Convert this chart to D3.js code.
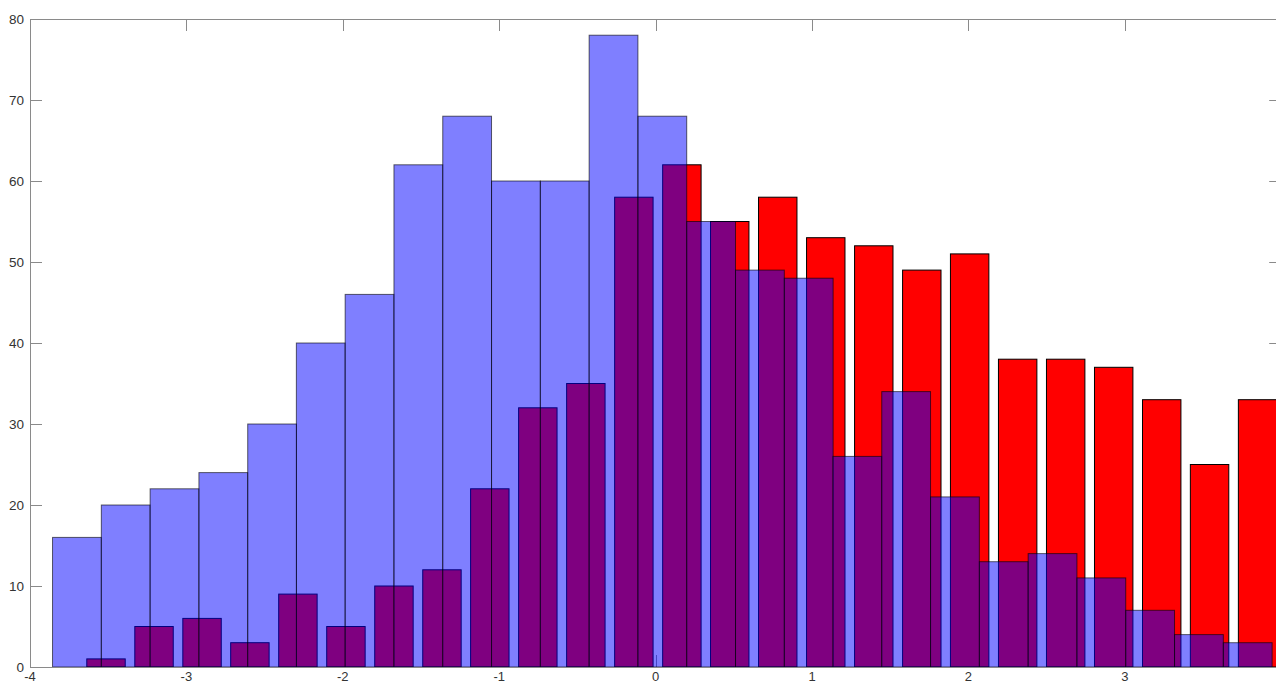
<!DOCTYPE html>
<html>
<head>
<meta charset="utf-8">
<script src="https://cdn.jsdelivr.net/npm/d3@7"></script>
<style>
  html, body { margin: 0; padding: 0; background: #fff; overflow: hidden; }
  svg { display: block; }
</style>
</head>
<body>
<svg id="chart" width="1276" height="684"></svg>
<script>
// Histogram A (semi-transparent blue): bin centres and counts
const binCentersA = [-3.700, -3.388, -3.076, -2.764, -2.452, -2.141, -1.829, -1.517, -1.205, -0.893,
                     -0.581, -0.269, 0.043, 0.355, 0.667, 0.979, 1.290, 1.602, 1.914, 2.226,
                     2.538, 2.850, 3.162, 3.474, 3.786];
const countsA = [16, 20, 22, 24, 30, 40, 46, 62, 68, 60, 60, 78, 68, 55, 49, 48, 26, 34, 21, 13, 14, 11, 7, 4, 3];
const binWidthA = 0.3119;

// Histogram B (opaque red): bar centres and counts
const binCentersB = [-3.514, -3.207, -2.900, -2.594, -2.287, -1.980, -1.673, -1.366, -1.060, -0.753,
                     -0.446, -0.139, 0.168, 0.474, 0.781, 1.088, 1.395, 1.702, 2.008, 2.315,
                     2.622, 2.929, 3.236, 3.542, 3.849];
const countsB = [1, 5, 6, 3, 9, 5, 10, 12, 22, 32, 35, 58, 62, 55, 58, 53, 52, 49, 51, 38, 38, 37, 33, 25, 33];
const barWidthB = 0.2457;

const xTicks = [-4, -3, -2, -1, 0, 1, 2, 3, 4];
const xTickLabels = ["-4", "-3", "-2", "-1", "0", "1", "2", "3"];
const yTicks = [0, 10, 20, 30, 40, 50, 60, 70, 80];

(function draw() {
  const svg = d3.select("#chart");
  const plotLeft = 30, plotTop = 19, plotBottom = 667;
  const x = d3.scaleLinear().domain([-4, 4]).range([plotLeft, plotLeft + 8 * 156.4]);
  const y = d3.scaleLinear().domain([0, 80]).range([plotBottom, plotTop]);
  const plotRight = x.range()[1];
  const tickLen = 12;
  const axisColor = "#8a8a8a";
  const labelColor = "#333";

  // Inward ticks (drawn beneath the bars)
  const ticks = svg.append("g").attr("stroke", axisColor).attr("stroke-width", 1);
  xTicks.forEach(t => {
    const px = Math.round(x(t)) + 0.5;
    ticks.append("line").attr("x1", px).attr("x2", px).attr("y1", plotBottom).attr("y2", plotBottom - tickLen);
    ticks.append("line").attr("x1", px).attr("x2", px).attr("y1", plotTop).attr("y2", plotTop + tickLen);
  });
  yTicks.forEach(t => {
    const py = Math.round(y(t)) + 0.5;
    ticks.append("line").attr("x1", plotLeft).attr("x2", plotLeft + tickLen).attr("y1", py).attr("y2", py);
    ticks.append("line").attr("x1", plotRight).attr("x2", plotRight - tickLen).attr("y1", py).attr("y2", py);
  });

  // Red bars
  svg.append("g").selectAll("rect")
    .data(binCentersB.map((c, i) => ({ c, v: countsB[i] })))
    .join("rect")
    .attr("x", d => x(d.c - barWidthB / 2))
    .attr("width", d => x(d.c + barWidthB / 2) - x(d.c - barWidthB / 2))
    .attr("y", d => y(d.v))
    .attr("height", d => y(0) - y(d.v))
    .attr("fill", "#ff0000")
    .attr("stroke", "#000")
    .attr("stroke-width", 1);

  // Blue bars, half transparent, on top
  svg.append("g").selectAll("rect")
    .data(binCentersA.map((c, i) => ({ c, v: countsA[i] })))
    .join("rect")
    .attr("x", d => x(d.c - binWidthA / 2))
    .attr("width", d => x(d.c + binWidthA / 2) - x(d.c - binWidthA / 2))
    .attr("y", d => y(d.v))
    .attr("height", d => y(0) - y(d.v))
    .attr("fill", "#0000ff")
    .attr("fill-opacity", 0.5)
    .attr("stroke", "#000")
    .attr("stroke-opacity", 0.6)
    .attr("stroke-width", 1);

  // Axes box
  const box = svg.append("g").attr("stroke", axisColor).attr("stroke-width", 1).attr("fill", "none");
  box.append("line").attr("x1", plotLeft).attr("x2", plotRight).attr("y1", plotBottom + 0.5).attr("y2", plotBottom + 0.5);
  box.append("line").attr("x1", plotLeft).attr("x2", plotRight).attr("y1", plotTop + 0.5).attr("y2", plotTop + 0.5);
  box.append("line").attr("x1", plotLeft + 0.5).attr("x2", plotLeft + 0.5).attr("y1", plotTop).attr("y2", plotBottom);
  box.append("line").attr("x1", plotRight).attr("x2", plotRight).attr("y1", plotTop).attr("y2", plotBottom);

  // Tick labels
  const font = "'Liberation Sans', Arial, Helvetica, sans-serif";
  svg.append("g").selectAll("text")
    .data(yTicks)
    .join("text")
    .attr("x", plotLeft - 6)
    .attr("y", d => y(d))
    .attr("dy", "0.35em")
    .attr("text-anchor", "end")
    .attr("font-family", font)
    .attr("font-size", 13.5)
    .attr("fill", labelColor)
    .text(d => d);

  svg.append("g").selectAll("text")
    .data(xTickLabels)
    .join("text")
    .attr("x", d => x(+d))
    .attr("y", 680.5)
    .attr("text-anchor", "middle")
    .attr("font-family", font)
    .attr("font-size", 13)
    .attr("fill", labelColor)
    .text(d => d);
})();
</script>
</body>
</html>
